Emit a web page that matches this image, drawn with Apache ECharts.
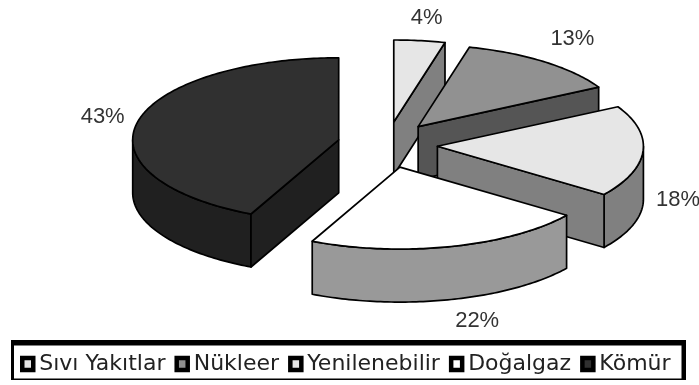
<!DOCTYPE html>
<html>
<head>
<meta charset="utf-8">
<style>html,body{margin:0;padding:0;background:#fff}#chart{width:699px;height:385px}</style>
<script src="https://cdn.jsdelivr.net/npm/echarts@6/dist/echarts.min.js"></script>
</head>
<body>
<div id="chart"></div>
<script>
// Energy sources and their shares, clockwise from twelve o'clock
const categories = ['Sıvı Yakıtlar', 'Nükleer', 'Yenilenebilir', 'Doğalgaz', 'Kömür'];
const shares = [4, 13, 18, 22, 43];
const topColors = ['#e6e6e6', '#919191', '#e6e6e6', '#ffffff', '#303030'];
const wallColors = ['#808080', '#555555', '#808080', '#999999', '#202020'];
const labelNudges = [[7, -23], [28, -23], [35, -4], [26, 21], [-35, -5]];

// Projected pie geometry
const baseX = 387.5, baseY = 144.8;
const radiusX = 206, radiusY = 82, depth = 53;
const explodeX = 50, explodeY = 23;
const total = shares.reduce((a, b) => a + b, 0);
const rad = d => d * Math.PI / 180;

function rimPoint(cx, cy, deg, drop) {
  return [cx + radiusX * Math.sin(rad(deg)), cy - radiusY * Math.cos(rad(deg)) + drop];
}
function arc(cx, cy, from, to, drop) {
  const pts = [];
  const n = Math.max(2, Math.ceil(Math.abs(to - from)));
  for (let i = 0; i <= n; i++) pts.push(rimPoint(cx, cy, from + (to - from) * i / n, drop));
  return pts;
}

function renderSlice(index) {
  return function (params, api) {
    const value = api.value(0);
    const before = shares.slice(0, index).reduce((a, b) => a + b, 0);
    const start = before / total * 360;
    const end = start + value / total * 360;
    const mid = (start + end) / 2;
    const cx = baseX + explodeX * Math.sin(rad(mid));
    const cy = baseY - explodeY * Math.cos(rad(mid));
    const edge = { stroke: '#000', lineWidth: 1.7, lineJoin: 'round' };
    const wall = Object.assign({ fill: wallColors[index] }, edge);
    const kids = [];

    // curved outer wall, only on the near half of the rim
    const a = Math.max(start, 90), b = Math.min(end, 270);
    if (b > a) {
      kids.push({ type: 'polygon', shape: { points: arc(cx, cy, a, b, 0).concat(arc(cx, cy, b, a, depth)) }, style: wall });
    }
    // flat cut walls, when they turn toward the viewer
    [[start, Math.sin(rad(start)) < -1e-6], [end, Math.sin(rad(end)) > 1e-6]].forEach(([deg, shown]) => {
      if (!shown) return;
      const p = rimPoint(cx, cy, deg, 0);
      kids.push({ type: 'polygon', shape: { points: [[cx, cy], p, [p[0], p[1] + depth], [cx, cy + depth]] }, style: wall });
    });
    // top face
    kids.push({
      type: 'polygon',
      shape: { points: [[cx, cy]].concat(arc(cx, cy, start, end, 0)) },
      style: Object.assign({ fill: topColors[index] }, edge)
    });
    // percentage label beside the rim
    const near = mid > 90 && mid < 270 ? depth : 0;
    const anchor = rimPoint(cx, cy, mid, near);
    kids.push({
      type: 'text',
      x: anchor[0] + labelNudges[index][0],
      y: anchor[1] + labelNudges[index][1],
      style: {
        text: value + '%', fill: '#333', align: 'center', verticalAlign: 'middle',
        font: '22px "Liberation Sans", Arial, sans-serif'
      }
    });
    return { type: 'group', children: kids };
  };
}

// Legend frame: heavier along the top and right
const frame = [
  { x: 11, y: 340, width: 675, height: 5.5 },
  { x: 11, y: 378.5, width: 671, height: 1.5 },
  { x: 11, y: 340, width: 3, height: 40 },
  { x: 681.5, y: 340, width: 4.5, height: 40 }
];

const chart = echarts.init(document.getElementById('chart'), null, { renderer: 'canvas' });
chart.setOption({
  animation: false,
  backgroundColor: '#fff',
  graphic: frame.map(shape => ({ type: 'rect', shape, style: { fill: '#000' }, silent: true })),
  legend: {
    left: 16, top: 349,
    orient: 'horizontal',
    selectedMode: false,
    itemWidth: 11, itemHeight: 12, itemGap: 9,
    padding: 4,
    textStyle: { fontFamily: '"DejaVu Sans", sans-serif', fontSize: 22, color: '#222', padding: [0, 0, 0, 1] },
    data: categories.map((name, i) => ({
      name, icon: 'rect',
      itemStyle: { color: topColors[i], borderColor: '#000', borderWidth: 4.5 }
    }))
  },
  series: categories.map((name, i) => ({
    type: 'custom',
    name,
    coordinateSystem: 'none',
    silent: true,
    itemStyle: { color: topColors[i] },
    renderItem: renderSlice(i),
    data: [[shares[i]]]
  }))
});
</script>
</body>
</html>
